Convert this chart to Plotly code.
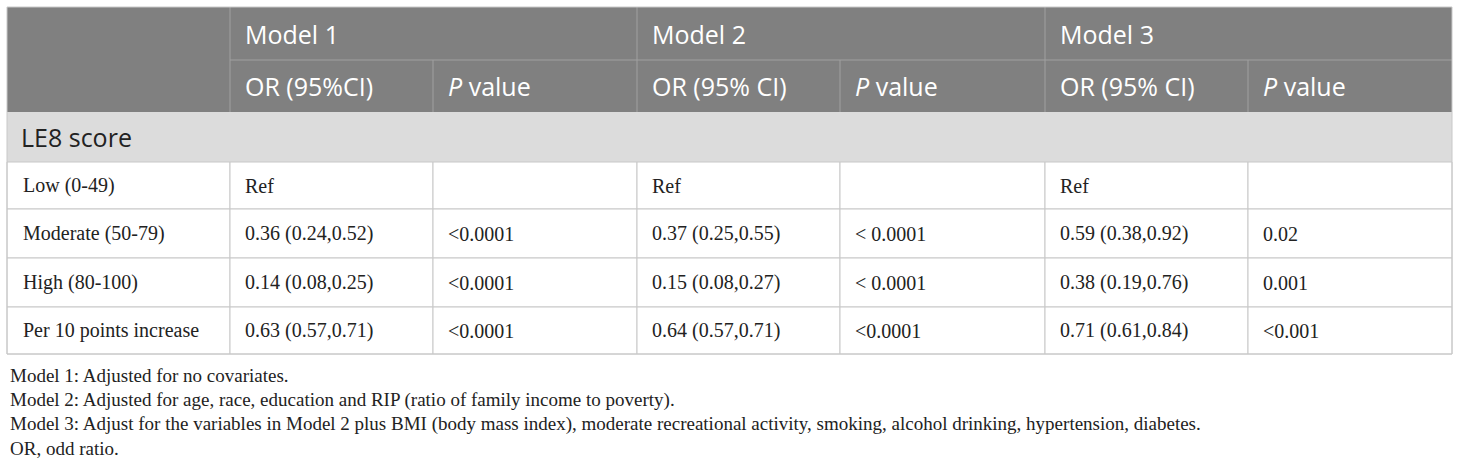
import plotly.graph_objects as go

# table content
models = ['Model 1', 'Model 2', 'Model 3']
sub_headers = ['OR (95%CI)', '<i>P</i> value', 'OR (95% CI)', '<i>P</i> value', 'OR (95% CI)', '<i>P</i> value']
section = 'LE8 score'
row_labels = ['Low (0-49)', 'Moderate (50-79)', 'High (80-100)', 'Per 10 points increase']
or_model1 = ['Ref', '0.36 (0.24,0.52)', '0.14 (0.08,0.25)', '0.63 (0.57,0.71)']
p_model1 = ['', '<0.0001', '<0.0001', '<0.0001']
or_model2 = ['Ref', '0.37 (0.25,0.55)', '0.15 (0.08,0.27)', '0.64 (0.57,0.71)']
p_model2 = ['', '< 0.0001', '< 0.0001', '<0.0001']
or_model3 = ['Ref', '0.59 (0.38,0.92)', '0.38 (0.19,0.76)', '0.71 (0.61,0.84)']
p_model3 = ['', '0.02', '0.001', '<0.001']
footnotes = [
    'Model 1: Adjusted for no covariates.',
    'Model 2: Adjusted for age, race, education and RIP (ratio of family income to poverty).',
    'Model 3: Adjust for the variables in Model 2 plus BMI (body mass index), moderate recreational activity, smoking, alcohol drinking, hypertension, diabetes.',
    'OR, odd ratio.',
]

# grid layout in page pixels
W, H = 1460, 464
col_edges = [7, 230, 433, 637, 840, 1045, 1248, 1452]
row_edges = [7, 60, 112, 162, 209, 258, 307, 354]
foot_x = 8
foot_y = [375, 400, 424, 448]

HEAD_BG = '#808080'
SECT_BG = '#dcdcdc'
GRID = '#c8c8c8'
HEAD_GRID = '#a0a0a0'
SANS = 'Open Sans, Noto Sans, sans-serif'
SERIF = 'Liberation Serif, DejaVu Serif, serif'
INK = '#222222'

fig = go.Figure()
shapes = []
annots = []


def rect(x0, y0, x1, y1, fill, line=None):
    shapes.append(dict(type='rect', x0=x0, y0=y0, x1=x1, y1=y1, fillcolor=fill,
                       line=dict(width=1 if line else 0, color=line or fill), layer='below'))


def line(x0, y0, x1, y1, color):
    shapes.append(dict(type='line', x0=x0, y0=y0, x1=x1, y1=y1,
                       line=dict(width=1, color=color), layer='below'))


def text(x, y, s, font, size, color):
    annots.append(dict(x=x, y=y, text=s, showarrow=False, xanchor='left', yanchor='middle',
                       font=dict(family=font, size=size, color=color)))


# header block
rect(col_edges[0], row_edges[0], col_edges[-1], row_edges[2], HEAD_BG)
for k in (1, 3, 5):
    line(col_edges[k], row_edges[0], col_edges[k], row_edges[2], HEAD_GRID)
for k in (2, 4, 6):
    line(col_edges[k], row_edges[1], col_edges[k], row_edges[2], HEAD_GRID)
line(col_edges[1], row_edges[1], col_edges[-1], row_edges[1], HEAD_GRID)

for i, m in enumerate(models):
    text(col_edges[1 + 2 * i] + 13, (row_edges[0] + row_edges[1]) / 2, m, SANS, 25, 'white')
for i, s in enumerate(sub_headers):
    text(col_edges[1 + i] + 13, (row_edges[1] + row_edges[2]) / 2, s, SANS, 25, 'white')

# section row
rect(col_edges[0], row_edges[2], col_edges[-1], row_edges[3], SECT_BG)
text(col_edges[0] + 12, (row_edges[2] + row_edges[3]) / 2, section, SANS, 25, INK)

# body rows
columns = [row_labels, or_model1, p_model1, or_model2, p_model2, or_model3, p_model3]
for r in range(len(row_labels)):
    y0, y1 = row_edges[3 + r], row_edges[4 + r]
    for c, col in enumerate(columns):
        rect(col_edges[c], y0, col_edges[c + 1], y1, 'white', GRID)
        if col[r]:
            text(col_edges[c] + (14 if c == 0 else 13), (y0 + y1) / 2, col[r], SERIF, 20, INK)

# outer border
rect(col_edges[0], row_edges[0], col_edges[-1], row_edges[-1], 'rgba(0,0,0,0)', GRID)

for y, s in zip(foot_y, footnotes):
    text(foot_x, y, s, SERIF, 19, INK)

fig.update_layout(
    width=W, height=H,
    margin=dict(l=0, r=0, t=0, b=0),
    paper_bgcolor='white', plot_bgcolor='white',
    shapes=shapes, annotations=annots,
    showlegend=False,
)
fig.update_xaxes(range=[0, W], visible=False, fixedrange=True)
fig.update_yaxes(range=[H, 0], visible=False, fixedrange=True)

# drop the default page margin so the figure fills the window exactly
fig.write_html('out.html', config={'displayModeBar': False},
               post_script="document.body.style.margin='0';")
